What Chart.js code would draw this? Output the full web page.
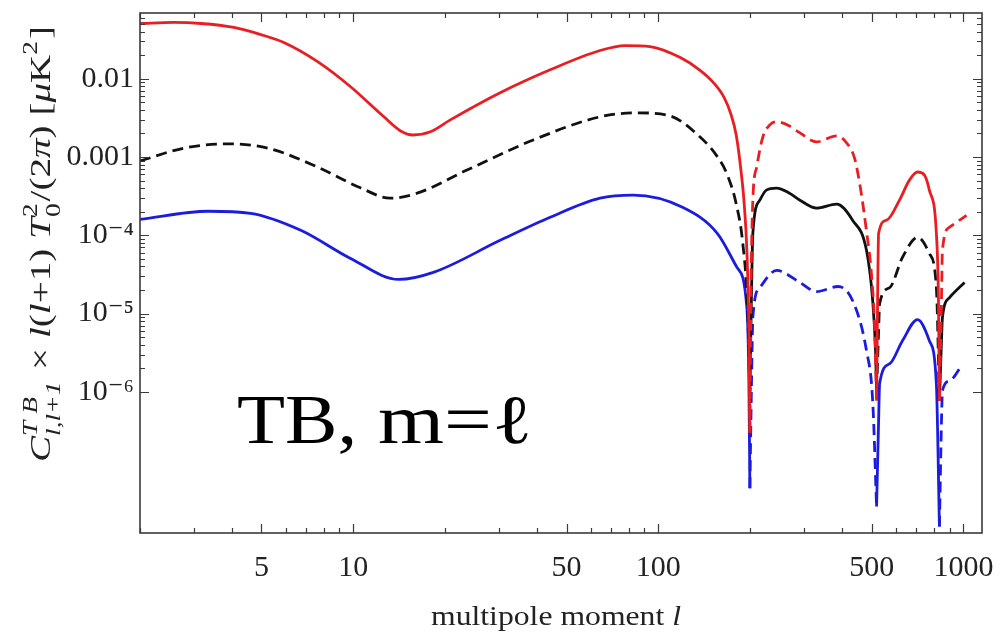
<!DOCTYPE html>
<html>
<head>
<meta charset="utf-8">
<script src="https://cdn.jsdelivr.net/npm/chart.js@4.4.1/dist/chart.umd.min.js"></script>
<style>
  html, body { margin: 0; padding: 0; background: #fff; }
  #wrap { width: 1000px; height: 636px; }
</style>
</head>
<body>
<div id="wrap"><canvas id="c" width="1000" height="636"></canvas></div>
<script>
// Multipole moment values l and the TB cross-spectrum magnitude |C| l(l+1) T0^2 / 2pi.
// Each curve changes sign at l ~ 200, 520 and 830; solid = one sign, dashed = the other.

// red curve
const red1 = [[2,0.0507],[2.58,0.0523],[3.17,0.0507],[4.06,0.0451],[4.98,0.0366],[5.92,0.0290],[7.64,0.0165],[9.8,0.00789],[12.6,0.00326],[14.3,0.00215],[15.7,0.00191],[17.9,0.00210],[20.8,0.00298],[30.3,0.00662],[44.2,0.0130],[64.4,0.0229],[77.8,0.0265],[94,0.0257],[118,0.0186],[137,0.0128],[152,0.0088],[164,0.0058],[173,0.0035],[180,0.0019],[186,7.4e-4],[191,2.6e-4],[195,6.4e-5],[198,6e-6],[199.5,3e-7]];
const red2 = [[199.5,3e-7],[201,1.47e-5],[204,2.81e-4],[210,7.44e-4],[220,1.80e-3],[232,2.57e-3],[244,2.81e-3],[269,2.49e-3],[291,2.03e-3],[330,1.56e-3],[384,1.86e-3],[415,1.5e-3],[440,9.5e-4],[460,3.9e-4],[480,1.2e-4],[500,3.0e-5],[512,6.05e-6],[519,7.7e-7]];
const red3 = [[519,7.7e-7],[523,1.47e-5],[527,1.06e-4],[560,1.56e-4],[617,2.81e-4],[665,5.07e-4],[707,6.43e-4],[745,5.88e-4],[773,3.78e-4],[815,1.06e-4],[828,1.47e-5],[834,7.7e-7]];
const red4 = [[834,7.7e-7],[847,1.47e-5],[853,6.43e-5],[900,1.27e-4],[1023,1.80e-4]];

// black curve
const black1 = [[2,8.9e-4],[2.79,0.00130],[3.88,0.00147],[5.24,0.00130],[7.64,7.44e-4],[10.6,4.01e-4],[13.2,2.98e-4],[16.2,3.45e-4],[23.6,6.81e-4],[38.9,0.00165],[64.4,0.00326],[85.1,0.00366],[109,0.00336],[137,0.00180],[155,1.05e-3],[168,6.0e-4],[180,2.5e-4],[189,8.0e-5],[196,1.2e-5],[199.5,1.03e-6]];
const black2 = [[199.5,1.03e-6],[202,1.97e-5],[204,1.06e-4],[215,2.81e-4],[226,3.78e-4],[244,4.01e-4],[269,3.45e-4],[291,2.81e-4],[330,2.22e-4],[384,2.50e-4],[433,1.56e-4],[481,6.43e-5],[504,1.47e-5],[515,3.36e-6],[519,1.03e-6]];
const black3 = [[519,1.03e-6],[527,6.05e-6],[531,1.34e-5],[573,2.15e-5],[631,5.22e-5],[707,9.42e-5],[773,5.88e-5],[815,2.15e-5],[834,7.7e-7]];
const black4 = [[834,7.7e-7],[847,4.51e-6],[853,8.89e-6],[900,1.60e-5],[1008,2.50e-5]];

// blue curve
const blue1 = [[2,1.60e-4],[3.34,2.03e-4],[4.61,1.91e-4],[6.73,1.16e-4],[9.8,5.07e-5],[14.1,2.73e-5],[18.3,3.36e-5],[30.3,8.63e-5],[44.2,1.70e-4],[64.4,2.98e-4],[82.6,3.26e-4],[120,2.28e-4],[156,1.06e-4],[181,3.89e-5],[195,1.19e-5],[198,1.38e-6],[199.5,5.9e-8]];
const blue2 = [[199.5,5.9e-8],[202,1.38e-6],[204,8.89e-6],[215,2.15e-5],[244,3.56e-5],[291,2.50e-5],[330,1.91e-5],[388,2.22e-5],[433,1.47e-5],[481,3.36e-6],[504,7.67e-7],[519,3.45e-8]];
const blue3 = [[519,3.45e-8],[527,4.25e-7],[531,1.27e-6],[573,2.29e-6],[631,4.51e-6],[707,8.37e-6],[773,4.51e-6],[815,1.27e-6],[834,1.91e-8]];
const blue4 = [[834,1.91e-8],[847,4.25e-7],[853,1.03e-6],[900,1.38e-6],[985,2.15e-6]];

// axis ticks
const xTickValues = [2,3,4,5,6,7,8,9,10,20,30,40,50,60,70,80,90,100,200,300,400,500,600,700,800,900,1000];
const xTickLabels = {5:'5', 10:'10', 50:'50', 100:'100', 500:'500', 1000:'1000'};
const yDecades = [1e-6, 1e-5, 1e-4, 1e-3, 1e-2];
const yDecadeLabels = ['10\u207B\u2076', '10\u207B\u2075', '10\u207B\u2074', '0.001', '0.01'];

const RED = '#e81e22', BLUE = '#1c1ce0', BLACK = '#111111';
const DASH = [11, 6];

const X_MIN = 2, X_MAX = 1150, Y_MIN = 1.58e-8, Y_MAX = 0.069;

const yTickValues = [];
yDecades.forEach(d => { for (let k = 1; k <= 9; k++) { const v = d * k; if (v <= Y_MAX) yTickValues.push(v); } });

function yLabelFor(v) {
  for (let i = 0; i < yDecades.length; i++) {
    if (Math.abs(Math.log10(v) - Math.log10(yDecades[i])) < 1e-6) return yDecadeLabels[i];
  }
  return '';
}

function series(pairs, color, dashed) {
  return {
    data: pairs.map(([l, v]) => ({ x: l, y: v })),
    borderColor: color,
    borderWidth: 2.8,
    borderDash: dashed ? DASH : [],
    pointRadius: 0,
    fill: false,
    cubicInterpolationMode: 'monotone'
  };
}

const datasets = [
  series(red1, RED, false), series(red2, RED, true), series(red3, RED, false), series(red4, RED, true),
  series(black1, BLACK, true), series(black2, BLACK, false), series(black3, BLACK, true), series(black4, BLACK, false),
  series(blue1, BLUE, false), series(blue2, BLUE, true), series(blue3, BLUE, false), series(blue4, BLUE, true)
];

const SERIF = '"Liberation Serif", "DejaVu Serif", serif';

// frame with inward ticks on all four sides
const framePlugin = {
  id: 'frame',
  afterDatasetsDraw(chart) {
    const { ctx, chartArea: a, scales: { x, y } } = chart;
    ctx.save();
    ctx.strokeStyle = '#3a3a3a';
    ctx.lineWidth = 1.2;
    ctx.beginPath();
    xTickValues.forEach(v => {
      const px = Math.round(x.getPixelForValue(v)) + 0.5;
      const len = xTickLabels[v] ? 9 : 5;
      ctx.moveTo(px, a.bottom); ctx.lineTo(px, a.bottom - len);
      ctx.moveTo(px, a.top); ctx.lineTo(px, a.top + len);
    });
    yTickValues.forEach(v => {
      const py = Math.round(y.getPixelForValue(v)) + 0.5;
      const len = yLabelFor(v) ? 9 : 5;
      ctx.moveTo(a.left, py); ctx.lineTo(a.left + len, py);
      ctx.moveTo(a.right, py); ctx.lineTo(a.right - len, py);
    });
    ctx.stroke();
    ctx.lineWidth = 1.6;
    ctx.strokeRect(a.left, a.top, a.right - a.left, a.bottom - a.top);
    ctx.restore();
  }
};

// rich text: runs of plain / italic text and stacked super/subscripts
const yTitleRuns = [
  { t: 'C', it: true },
  { sup: 'T B', sub: 'l,l+1', it: true },
  { t: ' \u00D7 ' },
  { t: 'l', it: true }, { t: '(' }, { t: 'l', it: true }, { t: '+1) ' },
  { t: 'T', it: true }, { sup: '2', sub: '0' },
  { t: '/(2' }, { t: '\u03C0', it: true }, { t: ') [' }, { t: '\u03BC', it: true }, { t: 'K' }, { sup: '2' }, { t: ']' }
];

// draws the runs centred on the origin, stretched along the baseline to the given length
function drawRuns(ctx, runs, size, small, length) {
  const font = (it, s) => (it ? 'italic ' : '') + s + 'px ' + SERIF;
  const w = (str, f) => { ctx.font = f; return ctx.measureText(str).width; };
  const runW = r => r.t !== undefined ? w(r.t, font(r.it, size))
    : Math.max(r.sup ? w(r.sup, font(r.it, small)) : 0, r.sub ? w(r.sub, font(r.it, small)) : 0) + 1.5;
  const natural = runs.reduce((s, r) => s + runW(r), 0);
  const k = length ? length / natural : 1;
  ctx.scale(k, 1);
  let cx = -natural / 2;
  runs.forEach(r => {
    if (r.t !== undefined) {
      ctx.font = font(r.it, size);
      ctx.fillText(r.t, cx, 0);
    } else {
      ctx.font = font(r.it, small);
      if (r.sup) ctx.fillText(r.sup, cx, -size * 0.42);
      if (r.sub) ctx.fillText(r.sub, cx, size * 0.32);
    }
    cx += runW(r);
  });
}

const textPlugin = {
  id: 'texts',
  afterDraw(chart) {
    const ctx = chart.ctx;
    ctx.save();
    ctx.fillStyle = '#222';
    ctx.textBaseline = 'alphabetic';
    ctx.textAlign = 'left';

    // y title, rotated
    ctx.save();
    ctx.translate(50, 244);
    ctx.rotate(-Math.PI / 2);
    drawRuns(ctx, yTitleRuns, 30, 21, 436);
    ctx.restore();

    // x title
    ctx.save();
    ctx.translate(556, 625);
    drawRuns(ctx, [{ t: 'multipole moment ' }, { t: 'l', it: true }], 28, 18, 250);
    ctx.restore();

    // note inside the plot
    ctx.fillStyle = '#000';
    ctx.font = '69px ' + SERIF;
    ctx.save(); ctx.translate(237, 443); ctx.scale(1.14, 1); ctx.fillText('TB,', 0, 0); ctx.restore();
    ctx.save(); ctx.translate(378, 443); ctx.scale(1.23, 1); ctx.fillText('m=\u2113', 0, 0); ctx.restore();
    ctx.restore();
  }
};

new Chart(document.getElementById('c'), {
  type: 'line',
  data: { datasets },
  plugins: [framePlugin, textPlugin],
  options: {
    responsive: false,
    animation: false,
    devicePixelRatio: 1,
    layout: { padding: { top: 13, right: 18, left: 0, bottom: 0 } },
    plugins: { legend: { display: false }, tooltip: { enabled: false } },
    scales: {
      x: {
        type: 'logarithmic',
        min: X_MIN, max: X_MAX,
        grid: { display: false, drawTicks: false },
        border: { display: false },
        afterBuildTicks: s => { s.ticks = xTickValues.map(v => ({ value: v })); },
        afterFit: s => { s.height = 103; s.paddingLeft = 0; s.paddingRight = 0; },
        ticks: {
          autoSkip: false, maxRotation: 0, padding: 17,
          color: '#222', font: { family: SERIF, size: 30 },
          callback: v => xTickLabels[v] || ''
        }
      },
      y: {
        type: 'logarithmic',
        min: Y_MIN, max: Y_MAX,
        grid: { display: false, drawTicks: false },
        border: { display: false },
        afterBuildTicks: s => { s.ticks = yTickValues.map(v => ({ value: v })); },
        afterFit: s => { s.width = 140; s.paddingTop = 0; s.paddingBottom = 0; },
        ticks: {
          autoSkip: false, padding: 6,
          color: '#222', font: { family: SERIF, size: 30 },
          callback: v => yLabelFor(v)
        }
      }
    }
  }
});
</script>
</body>
</html>
